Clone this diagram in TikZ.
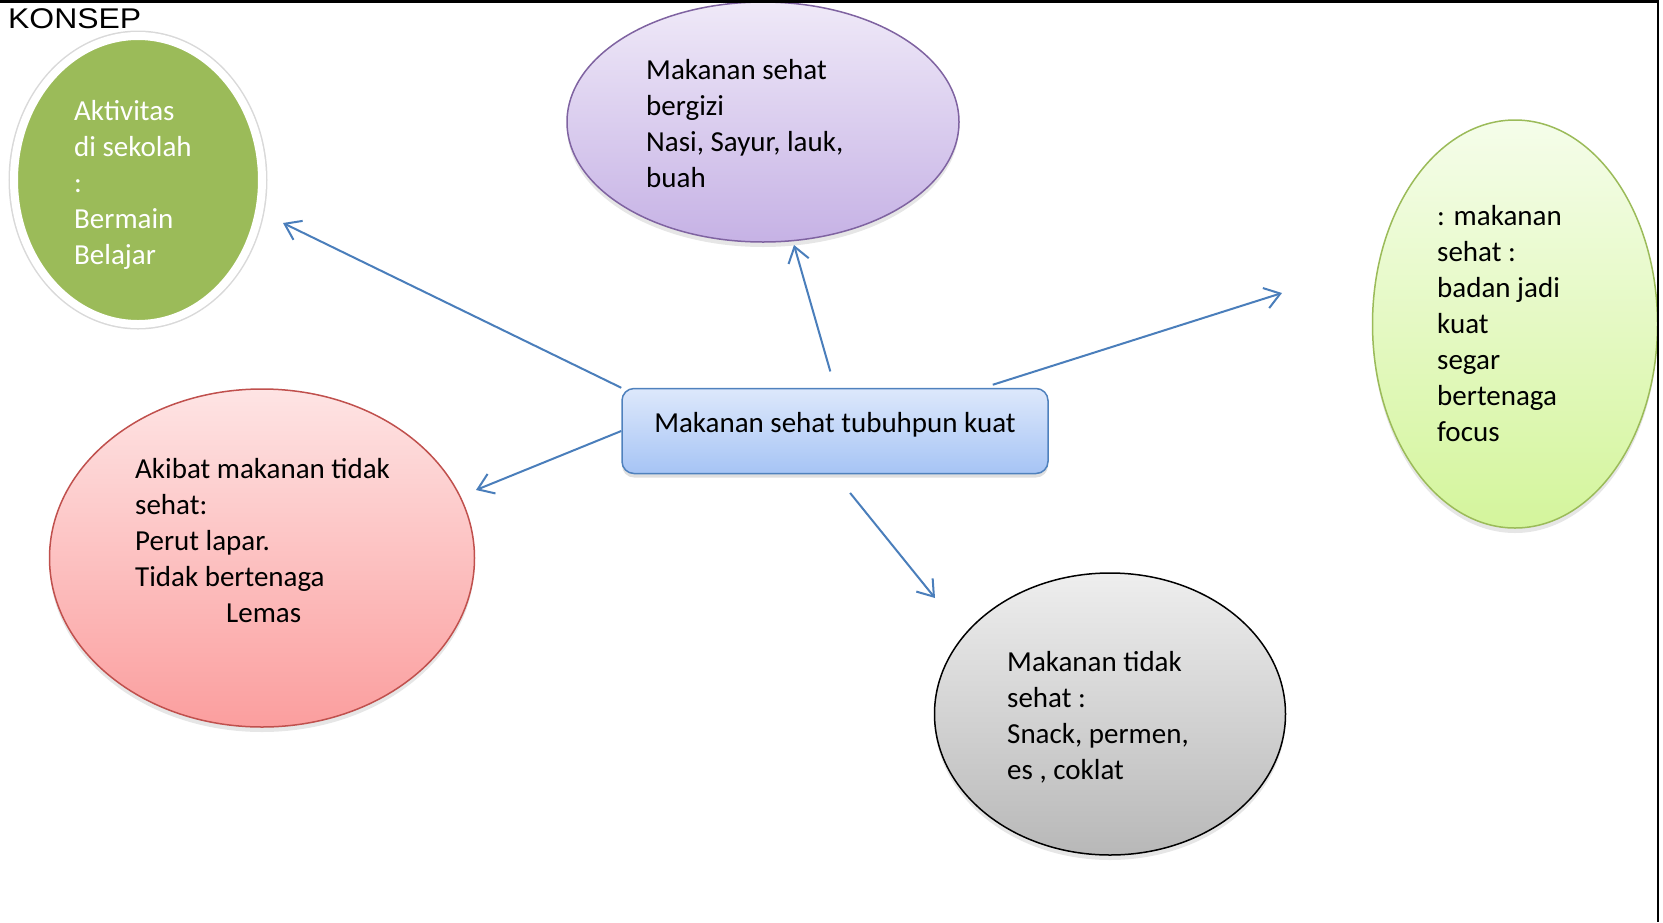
\documentclass[tikz,border=0pt]{standalone}
\usepackage{fontspec}
\setmainfont{Carlito}
\newfontfamily\judulfont[FakeStretch=1.12]{Liberation Sans}
\usetikzlibrary{arrows.meta, positioning, shapes.geometric, shadows}

\definecolor{panah}{HTML}{4A7EBB}
\definecolor{daun}{HTML}{9BBB59}
\definecolor{ungumuda}{HTML}{EFE9F8}
\definecolor{ungu}{HTML}{C6B2E5}
\definecolor{ungutua}{HTML}{7F63A1}
\definecolor{segarmuda}{HTML}{F5FDEA}
\definecolor{segar}{HTML}{D4F59C}
\definecolor{merahmuda}{HTML}{FEE4E4}
\definecolor{merah}{HTML}{FB9E9E}
\definecolor{merahtua}{HTML}{C0504D}
\definecolor{abumuda}{HTML}{EEEEEE}
\definecolor{abu}{HTML}{B8B8B8}
\definecolor{birumuda}{HTML}{DDE8FB}
\definecolor{biru}{HTML}{A6C4F5}
\definecolor{birutua}{HTML}{4F81BD}

\begin{document}
\begin{tikzpicture}[x=1pt, y=-1pt,
  gelembung/.style={ellipse, inner sep=0pt, line width=1.5pt,
    drop shadow={opacity=0.2, shadow xshift=0pt, shadow yshift=-5pt}},
  isi/.style={align=left, anchor=base west, inner sep=0pt,
    font=\fontsize{29}{36}\selectfont},
  panahbiru/.style={draw=panah, line width=2pt,
    -{Straight Barb[length=15pt, width=21pt]}}]
  \useasboundingbox (0,0) rectangle (1663,922);

  % Title
  \node[anchor=base west, inner sep=0pt, font=\judulfont\fontsize{28.5}{30}\selectfont]
    (judul) at (8,28) {KONSEP};

  % Bubbles
  \node[gelembung, draw=white, line width=8pt, fill=daun,
    preaction={draw=black!15, line width=11pt},
    minimum width=248pt, minimum height=288pt] (sekolah) at (138,180) {};
  \node[gelembung, draw=ungutua, top color=ungumuda, bottom color=ungu,
    minimum width=392pt, minimum height=240pt] (bergizi) at (763,122) {};
  \node[gelembung, draw=daun, top color=segarmuda, bottom color=segar,
    minimum width=285pt, minimum height=408pt] (manfaat) at (1515,324) {};
  \node[gelembung, draw=merahtua, top color=merahmuda, bottom color=merah,
    minimum width=425pt, minimum height=338pt] (akibat) at (262,558) {};
  \node[gelembung, draw=black, top color=abumuda, bottom color=abu,
    minimum width=351pt, minimum height=282pt] (tidaksehat) at (1110,714) {};

  % Texts (anchored at the baseline of the last line)
  \node[isi, text=white] (teksSekolah) at (74,264)
    {Aktivitas\\di sekolah\\:\\Bermain\\Belajar};
  \node[isi] (teksBergizi) at (646,187)
    {Makanan sehat\\bergizi\\Nasi, Sayur, lauk,\\buah};
  \node[isi] (teksManfaat) at (1437,441)
    {: makanan\\sehat :\\badan jadi\\kuat\\segar\\bertenaga\\focus};
  \node[isi] (teksAkibat) at (135,622)
    {Akibat makanan tidak\\sehat:\\Perut lapar.\\Tidak bertenaga\\\hspace*{91pt}Lemas};
  \node[isi] (teksTidak) at (1007,779)
    {Makanan tidak\\sehat :\\Snack, permen,\\es , coklat};

  % Centre box
  \node[draw=birutua, line width=1.5pt, rounded corners=12pt,
    top color=birumuda, bottom color=biru,
    minimum width=426pt, minimum height=85pt,
    text height=20pt, text depth=17pt,
    font=\fontsize{29}{36}\selectfont,
    drop shadow={opacity=0.25, shadow xshift=0pt, shadow yshift=-4pt}]
    (pusat) at (835,431) {Makanan sehat tubuhpun kuat};

  % Arrow ends
  \coordinate (ujungA) at (283,223);
  \coordinate (ujungB) at (794,245);
  \coordinate (ujungC) at (1282,293);
  \coordinate (ujungD) at (476,490);
  \coordinate (ujungE) at (935,598);

  % Arrows
  \draw[panahbiru] (pusat.north west) -- (ujungA);
  \draw[panahbiru, shorten <=17pt] (pusat.north) -- (ujungB);
  \draw[panahbiru] ([xshift=-56pt, yshift=3pt]pusat.north east) -- (ujungC);
  \draw[panahbiru] (pusat.west) -- (ujungD);
  \draw[panahbiru, shorten <=24pt] (pusat.south) -- (ujungE);

  % Frame
  \draw[line width=2.5pt] (0,1.25) -- (1658,1.25) -- (1658,922);
\end{tikzpicture}
\end{document}
